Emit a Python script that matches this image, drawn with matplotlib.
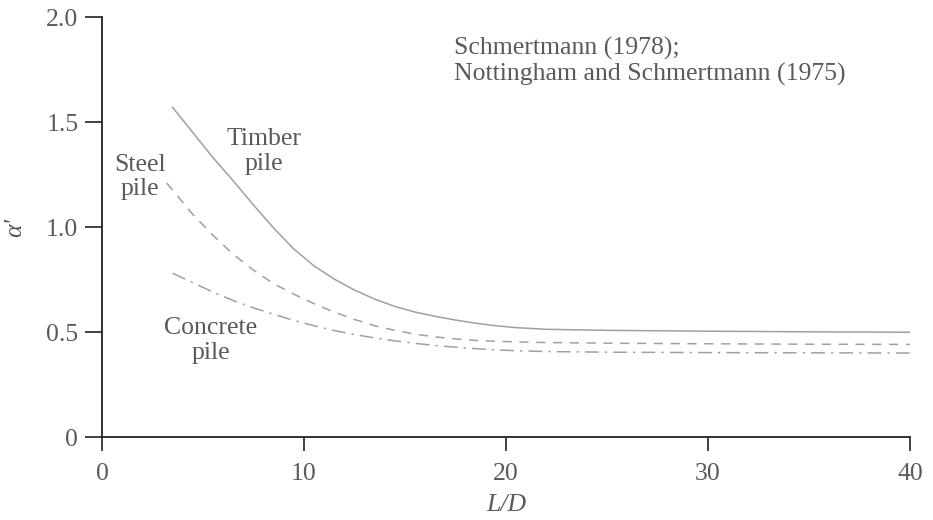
import numpy as np
import matplotlib
matplotlib.use("Agg")
import matplotlib.pyplot as plt

plt.rcParams['font.family'] = ['Liberation Serif', 'DejaVu Serif']

# values (L/D, alpha')
timber_x = [3.5, 4.5, 5.5, 6.5, 7.5, 8.5, 9.5, 10.5, 11.5, 12.5, 13.5, 14.5,
            15.5, 16.5, 17.5, 18.5, 19.5, 20.5, 22, 25, 30, 35, 40]
timber_y = [1.57, 1.45, 1.33, 1.22, 1.105, 0.995, 0.895, 0.815, 0.752, 0.70, 0.657, 0.622,
            0.595, 0.575, 0.557, 0.542, 0.53, 0.521, 0.513, 0.508, 0.504, 0.501, 0.499]
steel_x = [3.2, 4.5, 5.5, 6.5, 7.5, 8.5, 9.5, 10.5, 11.5, 12.5, 13.5, 14.5,
           15.5, 16.5, 17.5, 18.5, 19.5, 20.5, 22, 25, 30, 35, 40]
steel_y = [1.21, 1.06, 0.96, 0.87, 0.795, 0.73, 0.68, 0.635, 0.595, 0.56, 0.53, 0.508,
           0.49, 0.477, 0.467, 0.46, 0.456, 0.453, 0.45, 0.447, 0.444, 0.442, 0.441]
concrete_x = [3.5, 4.5, 5.5, 6.5, 7.5, 8.5, 9.5, 10.5, 11.5, 12.5, 13.5, 14.5,
              15.5, 16.5, 17.5, 18.5, 19.5, 20.5, 22, 25, 30, 35, 40]
concrete_y = [0.78, 0.735, 0.69, 0.65, 0.615, 0.585, 0.555, 0.53, 0.507, 0.488, 0.472, 0.458,
              0.446, 0.436, 0.428, 0.421, 0.415, 0.411, 0.407, 0.404, 0.402, 0.401, 0.40]

xticks = [0, 10, 20, 30, 40]
xticklabels = ['0', '10', '20', '30', '40']
yticks = [0, 0.5, 1.0, 1.5, 2.0]
yticklabels = ['0', '0.5', '1.0', '1.5', '2.0']

txt = '#5a5a5a'
line_c = '#a0a0a0'
fs = 18.5

fig = plt.figure(figsize=(9.33, 5.2), dpi=100)
ax = fig.add_axes([0.1093, 0.1596, 0.866, 0.8075])

ax.plot(timber_x, timber_y, color=line_c, lw=1.1, ls='-')
ax.plot(steel_x, steel_y, color=line_c, lw=1.1, ls=(0, (6, 5)))
ax.plot(concrete_x, concrete_y, color=line_c, lw=1.1, ls=(0, (9, 4, 1.5, 4)))

ax.set_xlim(0, 40)
ax.set_ylim(0, 2.0)
ax.set_xticks(xticks)
ax.set_xticklabels(xticklabels)
ax.set_yticks(yticks)
ax.set_yticklabels(yticklabels)
for s in ['top', 'right']:
    ax.spines[s].set_visible(False)
for s in ['left', 'bottom']:
    ax.spines[s].set_color('#222222')
    ax.spines[s].set_linewidth(1.3)
ax.tick_params(axis='y', direction='out', length=12, width=1.2, pad=5,
               colors='#222222', labelcolor=txt, labelsize=fs)
ax.tick_params(axis='x', direction='out', length=10, width=1.2, pad=9,
               colors='#222222', labelcolor=txt, labelsize=fs)

ax.set_xlabel('L/D', style='italic', color=txt, fontsize=fs, labelpad=6)
ax.set_ylabel("α'", style='italic', color=txt, fontsize=fs, labelpad=14)

ax.text(17.45, 1.905, 'Schmertmann (1978);\nNottingham and Schmertmann (1975)',
        color=txt, fontsize=fs, va='top', ha='left', linespacing=1.15)
ax.text(8.0, 1.36, 'Timber\npile', color=txt, fontsize=fs, ha='center',
        va='center', linespacing=1.15)
ax.text(1.9, 1.24, 'Steel\npile', color=txt, fontsize=fs, ha='center',
        va='center', linespacing=1.1)
ax.text(5.4, 0.46, 'Concrete\npile', color=txt, fontsize=fs, ha='center',
        va='center', linespacing=1.2)

fig.savefig('out.png', dpi=100)
